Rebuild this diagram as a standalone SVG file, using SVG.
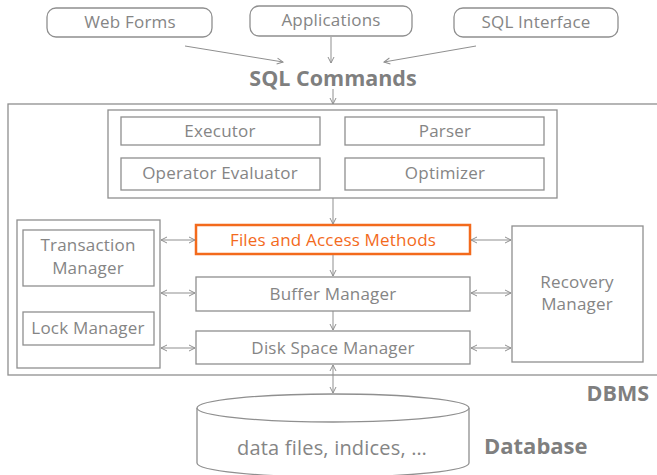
<svg xmlns="http://www.w3.org/2000/svg" width="657" height="475" viewBox="0 0 657 475">
<style>
.box{fill:#fff;stroke:#8f8f8f;stroke-width:1.3}
.t{font-family:"Open Sans","Noto Sans",sans-serif;font-size:17px;letter-spacing:0.2px;fill:#858585;text-anchor:middle}
.b{font-family:"Open Sans","Noto Sans",sans-serif;font-size:21.5px;font-weight:bold;fill:#7f7f7f}
.c{fill:none;stroke:#8f8f8f;stroke-width:1}
</style>
<defs>
<marker id="ah" viewBox="0 0 8 8" refX="7" refY="4" markerWidth="8" markerHeight="8" orient="auto-start-reverse" markerUnits="userSpaceOnUse">
<path d="M1,1 L7,4 L1,7" fill="none" stroke="#8f8f8f" stroke-width="1"/>
</marker>
</defs>
<rect width="657" height="475" fill="#fff"/>
<g id="dbms">
<rect x="8" y="104" width="660" height="271" fill="none" stroke="#8f8f8f" stroke-width="1.3"/>
<text class="b" x="649" y="401" text-anchor="end">DBMS</text>
</g>
<g id="web-forms"><rect class="box" x="47" y="8" width="165" height="29" rx="9"/><text class="t" x="130" y="28">Web Forms</text></g>
<g id="applications"><rect class="box" x="250" y="6" width="162" height="30" rx="9"/><text class="t" x="331" y="26">Applications</text></g>
<g id="sql-interface"><rect class="box" x="454" y="8" width="164" height="29" rx="9"/><text class="t" x="536" y="28">SQL Interface</text></g>
<g id="sql-commands"><text class="b" x="333" y="86" text-anchor="middle">SQL Commands</text></g>
<g id="query-processor"><rect class="box" x="108" y="110" width="449" height="88"/></g>
<g id="executor"><rect class="box" x="121" y="117" width="199" height="28"/><text class="t" x="220" y="137">Executor</text></g>
<g id="parser"><rect class="box" x="345" y="117" width="199" height="28"/><text class="t" x="445" y="137">Parser</text></g>
<g id="operator-evaluator"><rect class="box" x="121" y="158" width="199" height="32"/><text class="t" x="220" y="179">Operator Evaluator</text></g>
<g id="optimizer"><rect class="box" x="345" y="158" width="199" height="32"/><text class="t" x="445" y="179">Optimizer</text></g>
<g id="files-access"><rect x="196" y="225" width="274" height="29" fill="#fff" stroke="#f36a1c" stroke-width="2.5"/><text class="t" x="333" y="245.5" style="fill:#f36a1c">Files and Access Methods</text></g>
<g id="buffer-manager"><rect class="box" x="196" y="277" width="274" height="34"/><text class="t" x="333" y="299.5">Buffer Manager</text></g>
<g id="disk-space-manager"><rect class="box" x="196" y="331" width="274" height="33"/><text class="t" x="333" y="353.5">Disk Space Manager</text></g>
<g id="concurrency"><rect class="box" x="17" y="220" width="143" height="148"/></g>
<g id="transaction-manager"><rect class="box" x="23" y="230" width="131" height="56"/><text class="t" x="88" y="251">Transaction</text><text class="t" x="88" y="274">Manager</text></g>
<g id="lock-manager"><rect class="box" x="23" y="312" width="131" height="33"/><text class="t" x="88" y="334">Lock Manager</text></g>
<g id="recovery-manager"><rect class="box" x="512" y="226" width="131" height="136"/><text class="t" x="577" y="288">Recovery</text><text class="t" x="577" y="310">Manager</text></g>
<g id="database">
<path d="M197,408 L197,463 A136,14 0 0 0 469,463 L469,408" fill="#fff" stroke="#8f8f8f" stroke-width="1.3"/>
<ellipse cx="333" cy="408" rx="136" ry="14" fill="#fff" stroke="#8f8f8f" stroke-width="1.3"/>
<text class="t" x="332" y="455" style="font-size:20px">data files, indices, …</text>
<text class="b" x="484" y="454" style="font-size:22px">Database</text>
</g>
<g id="connectors">
<line class="c" x1="185" y1="46" x2="283" y2="62" marker-end="url(#ah)"/>
<line class="c" x1="331" y1="37" x2="331" y2="63" marker-end="url(#ah)"/>
<line class="c" x1="476" y1="46" x2="384" y2="62" marker-end="url(#ah)"/>
<line class="c" x1="333" y1="89" x2="333" y2="104" marker-end="url(#ah)"/>
<line class="c" x1="333" y1="198" x2="333" y2="224" marker-end="url(#ah)"/>
<line class="c" x1="333" y1="255" x2="333" y2="276" marker-end="url(#ah)"/>
<line class="c" x1="333" y1="311" x2="333" y2="330" marker-end="url(#ah)"/>
<line class="c" x1="333" y1="365" x2="333" y2="393" marker-start="url(#ah)" marker-end="url(#ah)"/>
<line class="c" x1="161" y1="240" x2="195" y2="240" marker-start="url(#ah)" marker-end="url(#ah)"/>
<line class="c" x1="161" y1="293" x2="195" y2="293" marker-start="url(#ah)" marker-end="url(#ah)"/>
<line class="c" x1="161" y1="348" x2="195" y2="348" marker-start="url(#ah)" marker-end="url(#ah)"/>
<line class="c" x1="471" y1="240" x2="511" y2="240" marker-start="url(#ah)" marker-end="url(#ah)"/>
<line class="c" x1="471" y1="293" x2="511" y2="293" marker-start="url(#ah)" marker-end="url(#ah)"/>
<line class="c" x1="471" y1="348" x2="511" y2="348" marker-start="url(#ah)" marker-end="url(#ah)"/>
</g>
</svg>
